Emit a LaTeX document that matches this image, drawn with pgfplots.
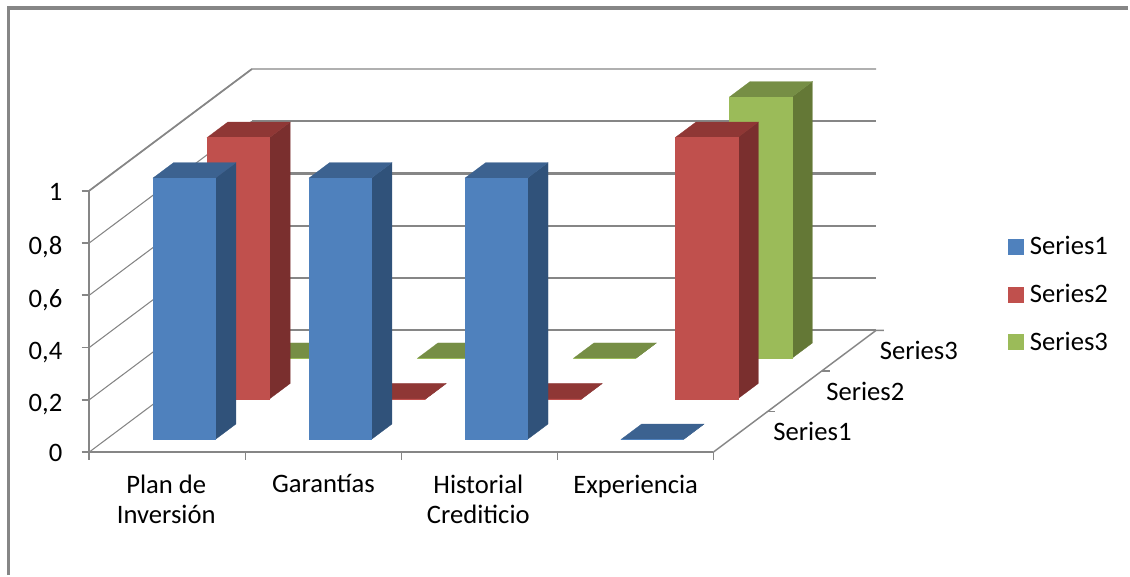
\documentclass[border=0pt]{standalone}
\usepackage{fontspec}
\setmainfont{Carlito}
\usepackage{pgfplots}
\pgfplotsset{compat=1.18}

\definecolor{frameg}{HTML}{868686}
\definecolor{s1}{HTML}{4F81BD}\definecolor{s1side}{HTML}{30527A}\definecolor{s1top}{HTML}{3C6290}
\definecolor{s2}{HTML}{C0504D}\definecolor{s2side}{HTML}{7A2F2E}\definecolor{s2top}{HTML}{8F3735}
\definecolor{s3}{HTML}{9BBB59}\definecolor{s3side}{HTML}{647836}\definecolor{s3top}{HTML}{768E45}

% one 3D column: category, series slot, value, colour prefix
\newcommand{\column}[4]{%
  \pgfmathsetmacro\xa{#1+0.30}\pgfmathsetmacro\xb{#1+0.70}%
  \pgfmathsetmacro\ya{#2+0.31}\pgfmathsetmacro\yb{#2+0.69}%
  \edef\temp{%
    \noexpand\addplot3[forget plot,draw=#4side,line width=0.2pt,fill=#4side] coordinates {(\xb,\ya,0) (\xb,\yb,0) (\xb,\yb,#3) (\xb,\ya,#3)} --cycle;
    \noexpand\addplot3[forget plot,draw=#4top,line width=0.2pt,fill=#4top] coordinates {(\xa,\ya,#3) (\xb,\ya,#3) (\xb,\yb,#3) (\xa,\yb,#3)} --cycle;
    \noexpand\addplot3[forget plot,draw=#4,line width=0.2pt,fill=#4] coordinates {(\xa,\ya,0) (\xb,\ya,0) (\xb,\ya,#3) (\xa,\ya,#3)} --cycle;
  }\temp}

\begin{document}
\begin{tikzpicture}
\path (0,0) rectangle (847.5pt,432pt);
\draw[frameg,line width=2.5pt] (6.6pt,0pt) -- (6.6pt,426pt) -- (847.5pt,426pt);
\begin{axis}[
    at={(67.1pt,92.5pt)}, anchor=origin,
    x={(117.2pt,0pt)}, y={(40.7pt,30.45pt)}, z={(0pt,196.3pt)},
    xmin=0, xmax=4, ymin=0, ymax=3, zmin=0, zmax=1,
    clip=false,
    axis x line=bottom, axis y line=right, axis z line=left,
    axis line style={frameg,line width=1.3pt,-},
    tick align=outside,
    tickwidth=6pt,
    major tick style={draw=none},
    xtick={0.5,1.5,2.5,3.5},
    xticklabels={{Plan de\\Inversión},Garantías\hspace*{9.8pt},{Historial\\Crediticio},Experiencia\hspace*{8pt}},
    xticklabel style={align=center,font=\fontsize{20}{23}\selectfont,xshift=15pt,yshift=-10pt},
    ytick=\empty,
    ztick={0,0.2,0.4,0.6,0.8,1},
    zticklabels={0,{0,2},{0,4},{0,6},{0,8},1},
    zticklabel style={font=\fontsize{20}{23}\selectfont,xshift=-12pt,yshift=5.5pt},
    legend style={at={(1.162,0.577)},anchor=north west,draw=none,fill=none,
      font=\fontsize{20}{23}\selectfont,row sep=16.5pt},
    legend cell align=left,
    legend image code/.code={\fill[#1] (0pt,-5.6pt) rectangle (11.25pt,5.6pt);\path (14.25pt,0pt);},
  ]
  \addlegendimage{s1}\addlegendentry{Series1}
  \addlegendimage{s2}\addlegendentry{Series2}
  \addlegendimage{s3}\addlegendentry{Series3}
  % walls
  \addplot3[forget plot,frameg,line width=0.8pt] coordinates {(0,0,1) (0,3,1) (4,3,1)};
  \addplot3[forget plot,frameg,line width=0.8pt] coordinates {(0,0,0.8) (0,3,0.8)};
  \addplot3[forget plot,frameg,line width=0.8pt] coordinates {(0,0,0.6) (0,3,0.6)};
  \addplot3[forget plot,frameg,line width=0.8pt] coordinates {(0,0,0.4) (0,3,0.4)};
  \addplot3[forget plot,frameg,line width=0.8pt] coordinates {(0,0,0.2) (0,3,0.2)};
  \addplot3[forget plot,frameg,line width=0.8pt] coordinates {(0,0,0) (0,3,0)};
  \addplot3[forget plot,frameg,line width=1.6pt] coordinates {(0,3,0.8) (4,3,0.8)};
  \addplot3[forget plot,frameg,line width=1.6pt] coordinates {(0,3,0.6) (4,3,0.6)};
  \addplot3[forget plot,frameg,line width=1.6pt] coordinates {(0,3,0.4) (4,3,0.4)};
  \addplot3[forget plot,frameg,line width=1.6pt] coordinates {(0,3,0.2) (4,3,0.2)};
  \addplot3[forget plot,frameg,line width=1.6pt] coordinates {(0,3,0) (4,3,0)};
  % tick marks
  \addplot3[forget plot,frameg,line width=1.3pt] coordinates {(0,0,0) (0,0,-0.03)};
  \addplot3[forget plot,frameg,line width=1.3pt] coordinates {(1,0,0) (1,0,-0.03)};
  \addplot3[forget plot,frameg,line width=1.3pt] coordinates {(2,0,0) (2,0,-0.03)};
  \addplot3[forget plot,frameg,line width=1.3pt] coordinates {(3,0,0) (3,0,-0.03)};
  \addplot3[forget plot,frameg,line width=1.3pt] coordinates {(4,0,0) (4,0,-0.03)};
  \addplot3[forget plot,frameg,line width=1.3pt] coordinates {(-0.05,0,0) (0,0,0)};
  \addplot3[forget plot,frameg,line width=1.3pt] coordinates {(-0.05,0,0.2) (0,0,0.2)};
  \addplot3[forget plot,frameg,line width=1.3pt] coordinates {(-0.05,0,0.4) (0,0,0.4)};
  \addplot3[forget plot,frameg,line width=1.3pt] coordinates {(-0.05,0,0.6) (0,0,0.6)};
  \addplot3[forget plot,frameg,line width=1.3pt] coordinates {(-0.05,0,0.8) (0,0,0.8)};
  \addplot3[forget plot,frameg,line width=1.3pt] coordinates {(-0.05,0,1) (0,0,1)};
  % depth axis on the right
  \addplot3[forget plot,frameg,line width=1.1pt] coordinates {(4,0,0) (4,3,0) (4.05,3,0)};
  \addplot3[forget plot,frameg,line width=1.1pt] coordinates {(4,1,0) (4.05,1,0)};
  \addplot3[forget plot,frameg,line width=1.1pt] coordinates {(4,2,0) (4.05,2,0)};
  \node[font=\fontsize{20}{23}\selectfont,xshift=54pt] at (axis cs:4,0.5,0) {Series1};
  \node[font=\fontsize{20}{23}\selectfont,xshift=53pt] at (axis cs:4,1.5,0) {Series2};
  \node[font=\fontsize{20}{23}\selectfont,xshift=52.5pt] at (axis cs:4,2.5,0) {Series3};
  % series3
  \column{0}{2}{0}{s3}\column{1}{2}{0}{s3}\column{2}{2}{0}{s3}\column{3}{2}{1}{s3}
  % series2
  \column{0}{1}{1}{s2}\column{1}{1}{0}{s2}\column{2}{1}{0}{s2}\column{3}{1}{1}{s2}
  % series1
  \column{0}{0}{1}{s1}\column{1}{0}{1}{s1}\column{2}{0}{1}{s1}\column{3}{0}{0}{s1}
\end{axis}
\end{tikzpicture}
\end{document}
